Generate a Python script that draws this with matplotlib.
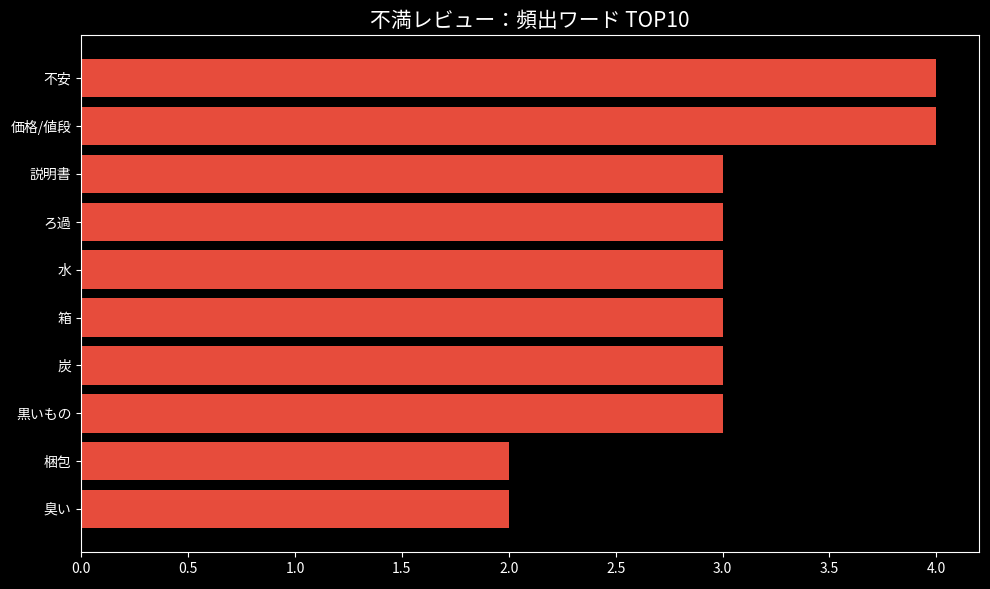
import matplotlib.pyplot as plt

plt.style.use('dark_background')
plt.rcParams['font.family'] = ['Noto Sans CJK JP', 'DejaVu Sans']

# Data
words = ['不安', '価格/値段', '説明書', 'ろ過', '水', '箱', '炭', '黒いもの', '梱包', '臭い']
counts = [4, 4, 3, 3, 3, 3, 3, 3, 2, 2]

fig, ax = plt.subplots(figsize=(9.9, 5.89), dpi=100)

ax.barh(words[::-1], counts[::-1], color='#e74c3c')

ax.set_title('不満レビュー：頻出ワード TOP10', fontsize=15)

fig.subplots_adjust(left=0.082, right=0.989, top=0.94, bottom=0.063)
plt.savefig('out.png', dpi=100)
